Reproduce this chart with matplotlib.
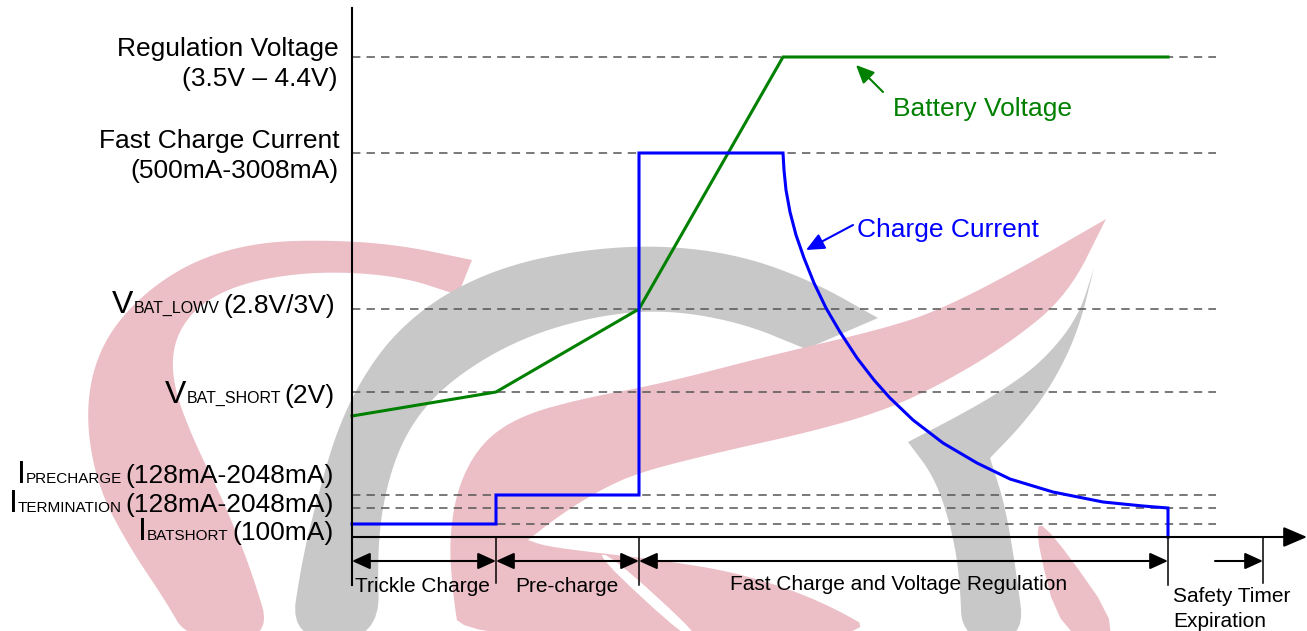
import matplotlib.pyplot as plt
from matplotlib.patches import Polygon

plt.rcParams['font.family'] = ['Liberation Sans', 'DejaVu Sans']

# ---- data (time in arbitrary ticks from start of charge, level in arbitrary units) ----
phase_bounds = [0, 144, 287, 816]          # trickle | pre-charge | fast charge + CV | done
t_safety = 911

volt_t = [0, 144, 287, 431, 816]
volt_v = [121, 145, 228, 480, 480]

curr_t = [0, 144, 144, 287, 287, 431, 432, 434, 438, 444, 452, 462, 474, 488, 505,
          522, 538, 561, 591, 625, 658, 701, 751, 791, 816, 816]
curr_i = [13, 13, 42, 42, 384, 384, 367, 347, 325, 302, 279, 254, 229, 205, 179,
          157, 139, 117, 94, 74, 58, 45, 35, 31, 29, 0]

V_REG, I_FAST, V_LOWV, V_SHORT = 480, 384, 228, 145
I_PRE, I_TERM, I_BATSHORT = 42, 29, 13
levels = [V_REG, I_FAST, V_LOWV, V_SHORT, I_PRE, I_TERM, I_BATSHORT]
dash_end = 864

phase_names = ['Trickle Charge', 'Pre-charge', 'Fast Charge and Voltage Regulation']

W, H = 1307, 631
fig = plt.figure(figsize=(W / 100, H / 100), dpi=100)

# background layer in pixel coords: watermark + labels
bg = fig.add_axes([0, 0, 1, 1])
bg.set_xlim(0, W)
bg.set_ylim(H, 0)
bg.axis('off')


def chaikin(pts, n=3):
    # round off the corners of a closed outline; a point given 3 times stays sharp
    for _ in range(n):
        out = []
        for i in range(len(pts)):
            (x0, y0), (x1, y1) = pts[i], pts[(i + 1) % len(pts)]
            out += [(0.75 * x0 + 0.25 * x1, 0.75 * y0 + 0.25 * y1),
                    (0.25 * x0 + 0.75 * x1, 0.25 * y0 + 0.75 * y1)]
        pts = out
    return pts


def sharp(p):
    return [p, p, p]


pink = '#ecbfc7'
grey = '#c8c8c8'
shapes = [
    # left pink "C"
    (pink, [*sharp((472, 260)), (400, 245), (330, 240), (260, 242), (200, 258), (150, 288),
            (110, 330), (90, 378), (87, 432), (100, 492), (130, 548), (165, 600),
            (188, 640), (272, 640), (252, 572), (224, 502), (192, 437), (172, 382),
            (174, 338), (200, 303), (248, 281), (320, 271), (400, 276), *sharp((458, 295))]),
    # big grey arc
    (grey, [(290, 640), (302, 560), (318, 495), (337, 430), (362, 378), (395, 333),
            (442, 295), (505, 266), (580, 250), (660, 245), (740, 255), (812, 281),
            *sharp((878, 318)), *sharp((806, 349)), (740, 322), (660, 309), (585, 318),
            (512, 342), (448, 382), (410, 425), (388, 478), (377, 545), (380, 640)]),
    # right grey hook
    (grey, [*sharp((1094, 268)), (1078, 318), (1042, 362), (1000, 392), (960, 415),
            *sharp((908, 442)), (935, 478), (952, 530), (960, 580), (962, 640),
            (1025, 640), (1016, 570), (1005, 505), *sharp((990, 458)), (1022, 425),
            (1052, 385), (1078, 332)]),
    # pink swoosh + lower blob
    (pink, [*sharp((1106, 219)), (1023, 267), (950, 305), (895, 326), (768, 356),
            (660, 384), (580, 399), (520, 416), (482, 442), (458, 485), (449, 540),
            (453, 595), (460, 640), (890, 640), (820, 600), (740, 573), (660, 560),
            (590, 552), (545, 546), *sharp((528, 540)), (560, 515), (600, 490), (640, 472),
            (720, 452), (810, 432), (880, 412), (938, 386), (1010, 343), (1068, 295)]),
    (pink, [(1033, 526), (1048, 526), (1128, 640), (1062, 640)]),
    ('white', [(596, 555), (611, 555), (704, 640), (688, 640)]),
]
for i, (col, pts) in enumerate(shapes):
    bg.add_patch(Polygon(chaikin(pts, 2 if len(pts) < 5 else 3), closed=True,
                         facecolor=col, edgecolor='none', zorder=i * 0.01))

# ---- chart layer ----
ax = fig.add_axes([0, 0, 1, 1], facecolor='none')
ax.set_xlim(-352, W - 352)
ax.set_ylim(537 - H, 537)
ax.axis('off')

for lv in levels:
    ax.plot([0, dash_end], [lv, lv], color='#555555', lw=1.1, dashes=(5.5, 4), zorder=2)

ax.plot(volt_t, volt_v, color='#008000', lw=2.2, zorder=4, solid_joinstyle='miter')
ax.plot(curr_t, curr_i, color='#0000ff', lw=2.2, zorder=5, solid_joinstyle='miter')

# axes
ax.plot([0, 0], [-48, 529], color='black', lw=1.5, zorder=6)
ax.annotate('', xy=(W - 352, 0), xytext=(0, 0),
            arrowprops=dict(arrowstyle='-|>,head_length=1.45,head_width=0.62',
                            mutation_scale=10, color='black', lw=1.5,
                            shrinkA=0, shrinkB=0), zorder=6)

# phase markers
row = -24
for t, bot in zip(phase_bounds[1:], [-46, -48, -48]):
    ax.plot([t, t], [0, bot], color='black', lw=1.1, zorder=6)
ax.plot([t_safety, t_safety], [0, -46], color='black', lw=1.1, zorder=6)
for a, b in zip(phase_bounds[:-1], phase_bounds[1:]):
    ax.annotate('', xy=(b, row), xytext=(a, row),
                arrowprops=dict(arrowstyle='<|-|>,head_length=1.1,head_width=0.5',
                                mutation_scale=10, color='black', lw=1.5,
                                shrinkA=0, shrinkB=0), zorder=6)
ax.annotate('', xy=(t_safety, row), xytext=(t_safety - 48, row),
            arrowprops=dict(arrowstyle='-|>,head_length=1.1,head_width=0.5',
                            mutation_scale=10, color='black', lw=1.5,
                            shrinkA=0, shrinkB=0), zorder=6)

# phase labels (pixel coords)
for name, x, yb in zip(phase_names, [355, 515, 730], [592, 592, 590]):
    bg.text(x, yb, name, fontsize=15, ha='left', va='baseline', zorder=7)
bg.text(1173, 602, 'Safety Timer', fontsize=15, ha='left', va='baseline', zorder=7)
bg.text(1173, 627, 'Expiration', fontsize=15, ha='left', va='baseline', zorder=7)

# curve callouts
ax.annotate('', xy=(856 - 352, 537 - 65), xytext=(883 - 352, 537 - 92),
            arrowprops=dict(arrowstyle='-|>,head_length=1.1,head_width=0.5',
                            mutation_scale=10, color='#008000', lw=1.5,
                            shrinkA=0, shrinkB=0), zorder=7)
bg.text(893, 116, 'Battery Voltage', fontsize=19, color='#008000', va='baseline', zorder=7)
ax.annotate('', xy=(806 - 352, 537 - 250), xytext=(853 - 352, 537 - 225),
            arrowprops=dict(arrowstyle='-|>,head_length=1.1,head_width=0.5',
                            mutation_scale=10, color='#0000ff', lw=1.5,
                            shrinkA=0, shrinkB=0), zorder=7)
bg.text(857, 237, 'Charge Current', fontsize=19, color='#0000ff', va='baseline', zorder=7)

# left labels
bg.text(339, 56, 'Regulation Voltage', fontsize=19, ha='right', va='baseline')
bg.text(338, 86, '(3.5V – 4.4V)', fontsize=19, ha='right', va='baseline')
bg.text(340, 148, 'Fast Charge Current', fontsize=19, ha='right', va='baseline')
bg.text(339, 178, '(500mA-3008mA)', fontsize=19, ha='right', va='baseline')

renderer = fig.canvas.get_renderer()


def rich_label(x_right, y_base, parts):
    # parts: (text, fontsize, gap in px to the next piece), drawn right to left
    x = x_right
    for s, size, gap in reversed(parts):
        x -= gap
        t = bg.text(x, y_base, s, fontsize=size, ha='right', va='baseline', zorder=7)
        x -= t.get_window_extent(renderer=renderer).width


rich_label(335, 313, [('V', 23, 0), ('BAT_LOWV', 11.5, 4), ('(2.8V/3V)', 19, 0)])
rich_label(335, 403, [('V', 23, 0), ('BAT_SHORT', 11.5, 4), ('(2V)', 19, 0)])
rich_label(334, 483, [('I', 23, 0), ('PRECHARGE', 11, 4), ('(128mA-2048mA)', 19, 0)])
rich_label(334, 512, [('I', 23, 0), ('TERMINATION', 11, 4), ('(128mA-2048mA)', 19, 0)])
rich_label(334, 540, [('I', 23, 0), ('BATSHORT', 11, 4), ('(100mA)', 19, 0)])

fig.savefig('out.png', dpi=100)
